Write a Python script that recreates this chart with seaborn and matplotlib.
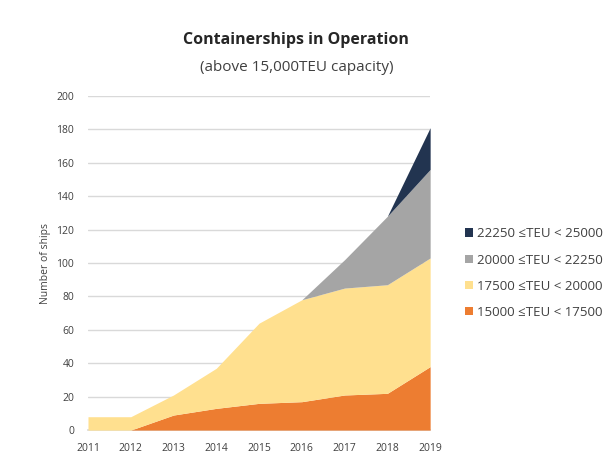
import matplotlib
matplotlib.use("Agg")
import matplotlib.pyplot as plt
import seaborn as sns
import numpy as np
from matplotlib.patches import Patch

years = [2011, 2012, 2013, 2014, 2015, 2016, 2017, 2018, 2019]
teu_15000_17500 = [0, 0, 9, 13, 16, 17, 21, 22, 38]
teu_17500_20000 = [8, 8, 12, 24, 48, 61, 64, 65, 65]
teu_20000_22250 = [0, 0, 0, 0, 0, 0, 17, 41, 53]
teu_22250_25000 = [0, 0, 0, 0, 0, 0, 0, 0, 25]
series_labels = ["15000 \u2264TEU < 17500", "17500 \u2264TEU < 20000",
                 "20000 \u2264TEU < 22250", "22250 \u2264TEU < 25000"]
colors = ["#ed7d31", "#ffe08f", "#a5a5a5", "#223450"]
y_ticks = list(range(0, 201, 20))

sns.set_theme(style="white")
plt.rcParams['font.family'] = ['Open Sans', 'DejaVu Sans']

fig = plt.figure(figsize=(6.11, 4.59), dpi=100)
ax = fig.add_axes([0.144, 0.063, 0.560, 0.728])

ax.stackplot(years, teu_15000_17500, teu_17500_20000, teu_20000_22250, teu_22250_25000,
             colors=colors, labels=series_labels, linewidth=0, zorder=3)

ax.set_xlim(years[0], years[-1])
ax.set_ylim(0, 200)
ax.set_yticks(y_ticks)
ax.set_xticks(years)
ax.tick_params(axis='both', labelsize=7.5, colors="#404040", length=0)
ax.tick_params(axis='y', pad=10)
ax.tick_params(axis='x', pad=9)
ax.yaxis.grid(True, color="#d9d9d9", linewidth=1, zorder=0)
ax.set_axisbelow(True)
for s in ["top", "right", "left"]:
    ax.spines[s].set_visible(False)
ax.spines["bottom"].set_color("#d9d9d9")
ax.set_ylabel("Number of ships", fontsize=7.5, color="#404040", labelpad=4)

fig.text(0.485, 0.913, "Containerships in Operation", ha="center", va="center",
         fontsize=11.5, fontweight="bold", color="#262626")
fig.text(0.485, 0.852, "(above 15,000TEU capacity)", ha="center", va="center",
         fontsize=11, color="#404040")

handles = [Patch(facecolor=c, edgecolor="none") for c in colors][::-1]
leg = fig.legend(handles, series_labels[::-1], loc="center left",
                 bbox_to_anchor=(0.742, 0.405), frameon=False, fontsize=9.5,
                 handlelength=0.6, handleheight=0.6, handletextpad=0.3,
                 labelspacing=1.0)
for t in leg.get_texts():
    t.set_color("#404040")

fig.savefig("out.png", dpi=100)
